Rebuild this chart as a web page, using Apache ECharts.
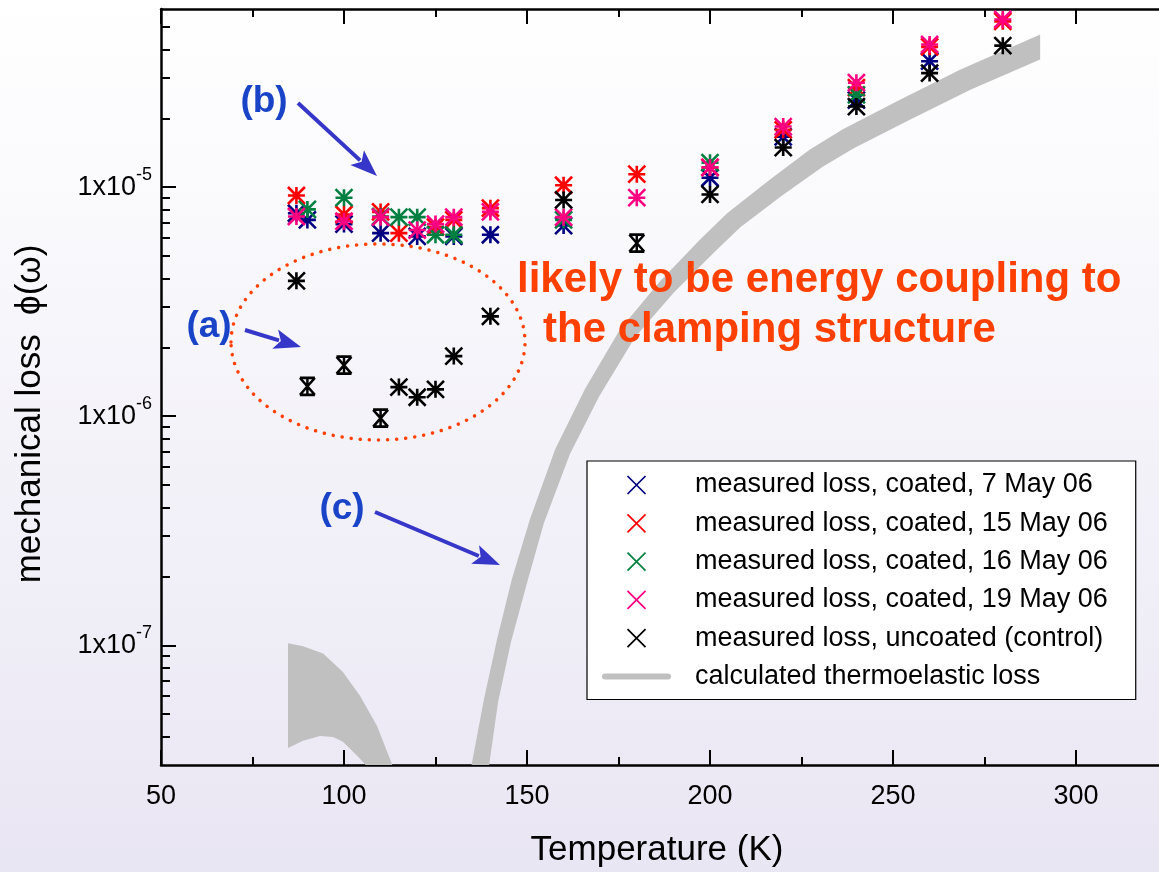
<!DOCTYPE html>
<html>
<head>
<meta charset="utf-8">
<script src="https://cdn.jsdelivr.net/npm/echarts@6/dist/echarts.min.js"></script>
<style>
html, body { margin: 0; padding: 0; }
#main { width: 1159px; height: 872px; }
</style>
</head>
<body>
<div id="main"></div>
<script>
// series names (legend order)
var seriesNames = [
    'measured loss, coated, 7 May 06',
    'measured loss, coated, 15 May 06',
    'measured loss, coated, 16 May 06',
    'measured loss, coated, 19 May 06',
    'measured loss, uncoated (control)',
    'calculated thermoelastic loss'
];
var seriesColors = ['#000080', '#ff0000', '#008040', '#ff0080', '#000000'];

// [temperature K, loss]
var coated7May = [[87, 7.7e-6], [90, 7.2e-6], [100, 6.9e-6], [110, 6.3e-6], [120, 6.1e-6], [130, 6.1e-6],
    [140, 6.2e-6], [160, 6.8e-6], [200, 1.1e-5], [220, 1.66e-5], [240, 2.4e-5], [260, 3.55e-5]];
var coated15May = [[87, 9.2e-6], [100, 7.6e-6], [110, 7.8e-6], [115, 6.3e-6], [125, 6.7e-6], [130, 7.2e-6],
    [140, 8.1e-6], [160, 1.02e-5], [180, 1.14e-5], [200, 1.22e-5], [220, 1.78e-5], [240, 2.72e-5],
    [260, 4.1e-5], [280, 5.3e-5]];
var coated16May = [[90, 8.0e-6], [100, 9.0e-6], [110, 7.45e-6], [115, 7.4e-6], [120, 7.4e-6], [125, 6.2e-6],
    [130, 6.2e-6], [160, 7.2e-6], [200, 1.28e-5], [240, 2.53e-5]];
var coated19May = [[87, 7.45e-6], [100, 7.1e-6], [110, 7.4e-6], [120, 6.5e-6], [125, 6.9e-6], [130, 7.4e-6],
    [140, 7.8e-6], [160, 7.4e-6], [180, 9.0e-6], [200, 1.22e-5], [220, 1.84e-5], [240, 2.86e-5],
    [260, 4.2e-5], [280, 5.4e-5]];
var uncoated = [[87, 3.9e-6], [90, 1.35e-6], [100, 1.67e-6], [110, 9.8e-7], [115, 1.34e-6], [120, 1.21e-6],
    [125, 1.31e-6], [130, 1.83e-6], [140, 2.73e-6], [160, 8.8e-6], [180, 5.7e-6], [200, 9.3e-6],
    [220, 1.49e-5], [240, 2.25e-5], [260, 3.15e-5], [280, 4.15e-5]];
// uncoated points drawn with the wide error-bar (hourglass) marker
var uncoatedWideErr = [90, 100, 110, 180];

// thermoelastic band edges [T, loss]
var thermoLowUpper = [[84.7, 1.02e-7], [88.8, 9.9e-8], [94.3, 9.2e-8], [99.7, 7.65e-8], [104.4, 6.0e-8],
    [109.0, 4.45e-8], [113.1, 3.03e-8], [114.5, 2.6e-8]];
var thermoLowLower = [[84.7, 3.56e-8], [88.8, 3.83e-8], [93.4, 4.02e-8], [97.0, 3.98e-8], [99.7, 3.79e-8],
    [103.6, 3.29e-8], [105.7, 3.03e-8], [107.6, 2.6e-8]];
var thermoHighUpper = [[134.5, 2.8e-8], [138.25, 5.82e-8], [141.8, 1.06e-7], [145.9, 1.95e-7], [150.8, 3.55e-7],
    [157.7, 7.17e-7], [165.8, 1.31e-6], [175.4, 2.39e-6], [186.3, 3.88e-6], [197.3, 5.91e-6],
    [204.6, 7.68e-6], [216.4, 1.08e-5], [227.3, 1.46e-5], [236.3, 1.79e-5], [251.9, 2.41e-5],
    [268.3, 3.26e-5], [290.2, 4.64e-5]];
var thermoHighLower = [[139.3, 2.74e-8], [142.1, 5.65e-8], [145.6, 1.03e-7], [150.0, 1.87e-7], [154.6, 3.41e-7],
    [161.7, 6.83e-7], [169.7, 1.22e-6], [179.5, 2.21e-6], [190.2, 3.48e-6], [201.1, 5.19e-6],
    [208.2, 6.67e-6], [219.7, 9.2e-6], [230.9, 1.23e-5], [239.3, 1.48e-5], [254.6, 1.97e-5],
    [271.3, 2.67e-5], [290.2, 3.61e-5]];

// axis ticks
var yMajorTicks = [1e-7, 1e-6, 1e-5];
var yMinorTicks = [4e-8, 5e-8, 6e-8, 7e-8, 8e-8, 9e-8,
    2e-7, 3e-7, 4e-7, 5e-7, 6e-7, 7e-7, 8e-7, 9e-7,
    2e-6, 3e-6, 4e-6, 5e-6, 6e-6, 7e-6, 8e-6, 9e-6,
    2e-5, 3e-5, 4e-5, 5e-5];

var FONT = 'Liberation Sans, Arial, sans-serif';
var ASTERISK = 'path://M0,0L10,10M10,0L0,10M5,0L5,10M0,5L10,5';
var HOURGLASS = 'path://M0,0L10,10M10,0L0,10M0,0L10,0M0,10L10,10M5,0L5,10';
var CROSS = 'path://M0,0L10,10M10,0L0,10';

var myChart = echarts.init(document.getElementById('main'));

var measured = [coated7May, coated15May, coated16May, coated19May, uncoated];
var scatterSeries = measured.map(function (arr, i) {
    return {
        name: seriesNames[i],
        type: 'scatter',
        symbol: ASTERISK,
        symbolSize: 17,
        itemStyle: { color: seriesColors[i], borderColor: seriesColors[i], borderWidth: 2.6, opacity: 1 },
        data: arr.map(function (p) {
            if (i === 4 && uncoatedWideErr.indexOf(p[0]) >= 0) {
                return { value: p, symbol: HOURGLASS, symbolSize: [15, 17] };
            }
            return p;
        }),
        z: 5
    };
});

var bands = [
    { upper: thermoLowUpper, lower: thermoLowLower },
    { upper: thermoHighUpper, lower: thermoHighLower }
];

var axisBlack = { color: '#000', width: 2.5 };
var tickBlack = { color: '#000', width: 2 };

// arrow annotation helper
function arrow(x1, y1, x2, y2) {
    var dx = x2 - x1, dy = y2 - y1, len = Math.sqrt(dx * dx + dy * dy);
    var ux = dx / len, uy = dy / len, hl = 27, hw = 10;
    var bx = x2 - ux * hl, by = y2 - uy * hl;
    return {
        type: 'group',
        z: 20,
        children: [
            { type: 'line', z: 20, shape: { x1: x1, y1: y1, x2: bx + ux * 4, y2: by + uy * 4 },
              style: { stroke: '#3636c8', lineWidth: 4 } },
            { type: 'polygon', z: 20, shape: { points: [[x2, y2], [bx - uy * hw, by + ux * hw], [bx + ux * 6, by + uy * 6], [bx + uy * hw, by - ux * hw]] },
              style: { fill: '#3636c8' } }
        ]
    };
}

function blueLabel(text, x, y) {
    return { type: 'text', x: x, y: y, z: 20,
        style: { text: text, font: 'bold 37px ' + FONT, fill: '#1a44c8', align: 'center', verticalAlign: 'middle' } };
}

myChart.setOption({
    animation: false,
    backgroundColor: {
        type: 'linear', x: 0, y: 0, x2: 0, y2: 1,
        colorStops: [{ offset: 0, color: '#ffffff' }, { offset: 1, color: '#e9e6f3' }]
    },
    textStyle: { fontFamily: FONT },
    grid: { left: 161, top: 9, width: 1098, height: 756, outerBoundsMode: 'none', containLabel: false },
    legend: {
        orient: 'vertical',
        left: 587,
        top: 461,
        itemWidth: 69,
        itemHeight: 18,
        itemGap: 8.3,
        padding: [9, 28, 8, 15],
        backgroundColor: '#ffffff',
        borderColor: '#000',
        borderWidth: 1.2,
        selectedMode: false,
        z: 30,
        textStyle: { fontSize: 27, color: '#000', lineHeight: 30, padding: [0, 0, 0, 19], fontFamily: FONT },
        data: seriesNames.map(function (n, i) {
            if (i < 5) return { name: n, icon: CROSS, itemStyle: { borderWidth: 1.7 } };
            return { name: n, icon: 'path://M3,0L66,0Q69,0,69,3Q69,6,66,6L3,6Q0,6,0,3Q0,0,3,0Z', itemStyle: { borderWidth: 0 } };
        })
    },
    xAxis: [{
        type: 'value', position: 'bottom', min: 50, max: 350, interval: 50,
        axisLine: { lineStyle: axisBlack },
        axisTick: { inside: true, length: 15, lineStyle: tickBlack },
        minorTick: { show: true, splitNumber: 2, length: 8, lineStyle: tickBlack },
        splitLine: { show: false },
        axisLabel: { fontSize: 27, color: '#000', margin: 18, fontFamily: FONT },
        name: 'Temperature (K)', nameLocation: 'middle', nameGap: 68,
        nameTextStyle: { fontSize: 35, color: '#000', padding: [0, 106, 0, 0], fontFamily: FONT }
    }, {
        type: 'value', position: 'top', min: 50, max: 350, interval: 50,
        axisLine: { lineStyle: axisBlack },
        axisTick: { inside: true, length: 15, lineStyle: tickBlack },
        minorTick: { show: true, splitNumber: 2, length: 8, lineStyle: tickBlack },
        splitLine: { show: false },
        axisLabel: { show: false }
    }],
    yAxis: [{
        type: 'log', position: 'left', min: 3e-8, max: 6e-5,
        axisLine: { show: true, lineStyle: axisBlack },
        axisTick: { inside: true, length: 15, lineStyle: tickBlack, customValues: yMajorTicks },
        splitLine: { show: false },
        axisLabel: {
            customValues: yMajorTicks,
            margin: 9,
            formatter: function (v) {
                return '{b|1x10}{s|' + Math.round(Math.log10(v)) + '}';
            },
            rich: {
                b: { fontSize: 27, color: '#000', fontFamily: FONT },
                s: { fontSize: 18, color: '#000', fontFamily: FONT, padding: [0, 0, 24, 0] }
            }
        },
        name: 'mechanical loss  \u03d5(\u03c9)', nameLocation: 'middle', nameGap: 113, nameRotate: 90,
        nameTextStyle: { fontSize: 35, color: '#000', padding: [0, 54, 0, 0], fontFamily: FONT }
    }, {
        type: 'log', position: 'left', min: 3e-8, max: 6e-5,
        axisLine: { show: false },
        axisTick: { inside: true, length: 9, lineStyle: tickBlack, customValues: yMinorTicks },
        splitLine: { show: false },
        axisLabel: { show: false }
    }],
    series: [{
        name: seriesNames[5],
        type: 'custom',
        clip: true,
        itemStyle: { color: '#c0c0c0' },
        data: bands.map(function (b) { return b.upper[1]; }),
        renderItem: function (params, api) {
            var b = bands[params.dataIndex];
            var pts = b.upper.map(function (p) { return api.coord(p); })
                .concat(b.lower.slice().reverse().map(function (p) { return api.coord(p); }));
            return { type: 'polygon', shape: { points: pts }, style: { fill: '#c0c0c0' } };
        },
        z: 2
    }].concat(scatterSeries),
    graphic: [
        { type: 'ellipse', z: 20, shape: { cx: 378, cy: 342, rx: 147, ry: 98 },
          style: { fill: null, stroke: '#ff4000', lineWidth: 3.5, lineDash: [0.1, 9], lineCap: 'round' } },
        arrow(298, 103, 377, 176),
        arrow(245, 330, 301, 347),
        arrow(375, 512, 500, 565),
        blueLabel('(b)', 264, 102),
        blueLabel('(a)', 209, 327),
        blueLabel('(c)', 342, 509),
        { type: 'text', x: 517, y: 280, z: 20,
          style: { text: 'likely to be energy coupling to', font: 'bold 42px ' + FONT, fill: '#ff4000', verticalAlign: 'middle' } },
        { type: 'text', x: 543, y: 330, z: 20,
          style: { text: 'the clamping structure', font: 'bold 42px ' + FONT, fill: '#ff4000', verticalAlign: 'middle' } }
    ]
});
</script>
</body>
</html>
